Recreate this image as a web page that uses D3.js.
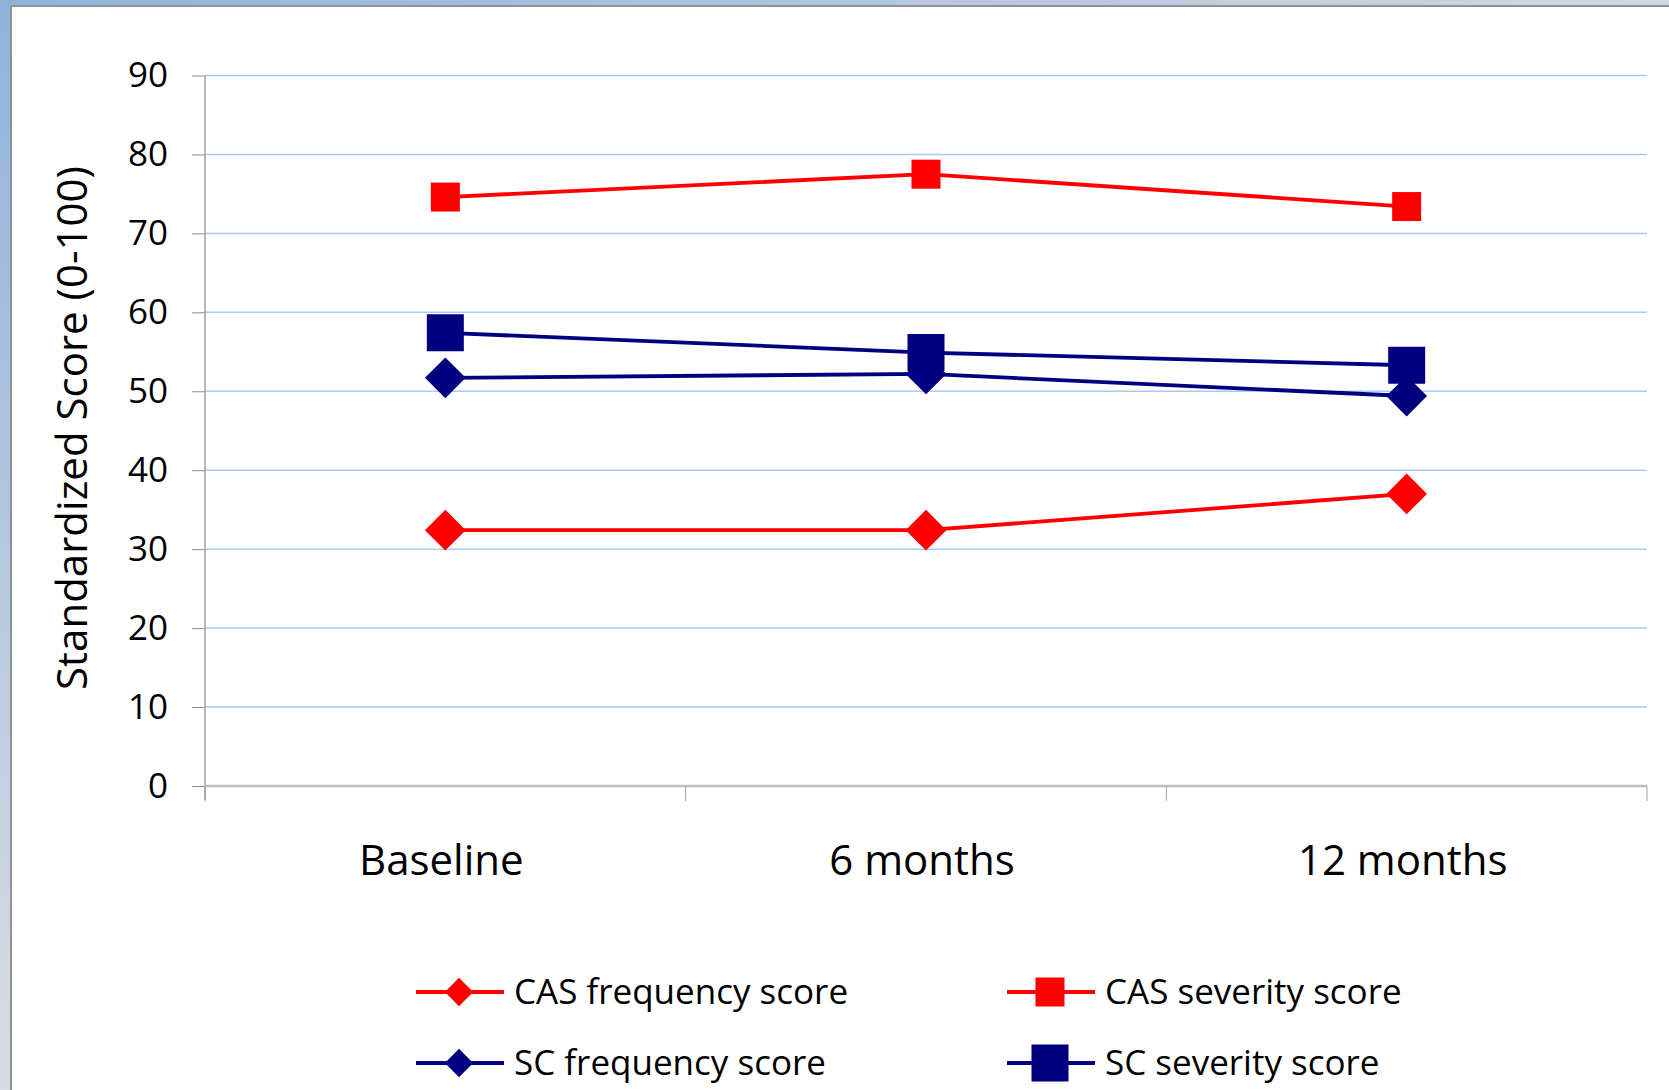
<!DOCTYPE html>
<html>
<head>
<meta charset="utf-8">
<script src="https://cdn.jsdelivr.net/npm/d3@7"></script>
<style>
  body { margin: 0; background: #fff; }
  svg text { font-family: "Open Sans", sans-serif; fill: #000; }
</style>
</head>
<body>
<div id="chart"></div>
<script>
// Data
const categories = ['Baseline', '6 months', '12 months'];
const casFrequency = [32.4, 32.4, 37.0];
const casSeverity = [74.6, 77.5, 73.4];
const scFrequency = [51.7, 52.2, 49.4];
const scSeverity = [57.4, 54.9, 53.3];
const yTicks = [0, 10, 20, 30, 40, 50, 60, 70, 80, 90];

const seriesNames = ['CAS frequency score', 'CAS severity score', 'SC frequency score', 'SC severity score'];
const seriesValues = [casFrequency, casSeverity, scFrequency, scSeverity];
const seriesColors = ['#ff0000', '#ff0000', '#000080', '#000080'];
const seriesShapes = ['diamond', 'square', 'diamond', 'square'];

const W = 1669, H = 1090;
const plot = { left: 205, right: 1647, top: 75.5, bottom: 786 };

const svg = d3.select('#chart').append('svg')
    .attr('width', W)
    .attr('height', H);

// window-like frame on the top/left
const defs = svg.append('defs');
const gLeft = defs.append('linearGradient').attr('id', 'gl')
    .attr('x1', 0).attr('y1', 0).attr('x2', 0).attr('y2', 1);
gLeft.append('stop').attr('offset', '0%').attr('stop-color', '#8fb3dc');
gLeft.append('stop').attr('offset', '100%').attr('stop-color', '#d9dde2');
const gTop = defs.append('linearGradient').attr('id', 'gt')
    .attr('x1', 0).attr('y1', 0).attr('x2', 1).attr('y2', 0);
gTop.append('stop').attr('offset', '0%').attr('stop-color', '#8fb3dc');
gTop.append('stop').attr('offset', '100%').attr('stop-color', '#d2d8e0');

svg.append('rect').attr('width', W).attr('height', H).attr('fill', '#fff');
svg.append('rect').attr('x', 0).attr('y', 0).attr('width', W).attr('height', 6).attr('fill', 'url(#gt)');
svg.append('rect').attr('x', 0).attr('y', 0).attr('width', 10).attr('height', H).attr('fill', 'url(#gl)');
svg.append('rect').attr('x', 10).attr('y', 5).attr('width', W - 10).attr('height', 2).attr('fill', '#8e9196');
svg.append('rect').attr('x', 10).attr('y', 5).attr('width', 2).attr('height', H - 5).attr('fill', '#8e9196');

// scales
const x = d3.scaleBand()
    .domain(categories)
    .range([plot.left, plot.right]);

const y = d3.scaleLinear()
    .domain([0, 90])
    .range([plot.bottom, plot.top]);

// gridlines
svg.append('g')
    .selectAll('line')
    .data(yTicks.filter(d => d > 0))
    .join('line')
    .attr('x1', plot.left)
    .attr('x2', plot.right)
    .attr('y1', d => y(d))
    .attr('y2', d => y(d))
    .attr('stroke', '#a9cbef')
    .attr('stroke-width', 1.5);

// y axis
const yAxis = svg.append('g')
    .attr('transform', `translate(${plot.left},0)`)
    .call(d3.axisLeft(y).tickValues(yTicks).tickSize(13).tickPadding(24));
yAxis.select('.domain').remove();
yAxis.selectAll('.tick line').attr('stroke', '#8c8c8c');
yAxis.selectAll('.tick text')
    .attr('font-size', 35)
    .attr('font-family', '"Open Sans", sans-serif')
    .attr('fill', '#000');
svg.append('line')
    .attr('x1', plot.left).attr('x2', plot.left)
    .attr('y1', plot.top).attr('y2', plot.bottom + 14)
    .attr('stroke', '#a0a0a0').attr('stroke-width', 1.5);

// x axis
const xAxis = svg.append('g')
    .attr('transform', `translate(0,${plot.bottom})`)
    .call(d3.axisBottom(x).tickSize(0).tickPadding(0));
xAxis.select('.domain').remove();
xAxis.selectAll('.tick text')
    .attr('font-size', 42)
    .attr('font-family', '"Open Sans", sans-serif')
    .attr('fill', '#000')
    .attr('dy', null)
    .attr('x', -4)
    .attr('y', 89);
svg.append('line')
    .attr('x1', plot.left).attr('x2', plot.right)
    .attr('y1', plot.bottom).attr('y2', plot.bottom)
    .attr('stroke', '#bfbfbf').attr('stroke-width', 2.5);
const boundaries = categories.map(c => x(c)).concat([x(categories[categories.length - 1]) + x.bandwidth()]);
svg.append('g')
    .selectAll('line')
    .data(boundaries)
    .join('line')
    .attr('x1', d => d).attr('x2', d => d)
    .attr('y1', plot.bottom).attr('y2', plot.bottom + 15)
    .attr('stroke', '#a0a0a0').attr('stroke-width', 1);

// y axis title
svg.append('text')
    .attr('transform', `translate(87,428) rotate(-90)`)
    .attr('text-anchor', 'middle')
    .attr('font-size', 42)
    .text('Standardized Score (0-100)');

// marker helper
function marker(shape, color, legend) {
    if (shape === 'diamond') {
        const s = legend ? 400 : 830;
        return g => g.append('path')
            .attr('d', d3.symbol(d3.symbolSquare, s)())
            .attr('transform', 'rotate(45)')
            .attr('fill', color);
    }
    const s = color === '#ff0000' ? 29 * 29 : 37 * 37;
    return g => g.append('path')
        .attr('d', d3.symbol(d3.symbolSquare, s)())
        .attr('fill', color);
}

// lines and markers
const line = d3.line()
    .x((d, i) => x(categories[i]) + x.bandwidth() / 2)
    .y(d => y(d));

seriesValues.forEach((vals, k) => {
    svg.append('path')
        .datum(vals)
        .attr('fill', 'none')
        .attr('stroke', seriesColors[k])
        .attr('stroke-width', 3.8)
        .attr('d', line);
});
seriesValues.forEach((vals, k) => {
    svg.append('g')
        .selectAll('g')
        .data(vals)
        .join('g')
        .attr('transform', (d, i) => `translate(${x(categories[i]) + x.bandwidth() / 2},${y(d)})`)
        .each(function () {
            marker(seriesShapes[k], seriesColors[k], false)(d3.select(this));
        });
});

// legend
const legendCols = [416, 1007];
const legendRows = [992, 1063];
seriesNames.forEach((name, k) => {
    const g = svg.append('g')
        .attr('transform', `translate(${legendCols[k % 2]},${legendRows[Math.floor(k / 2)]})`);
    g.append('line')
        .attr('x1', 0).attr('x2', 88)
        .attr('y1', 0).attr('y2', 0)
        .attr('stroke', seriesColors[k])
        .attr('stroke-width', 4);
    const m = g.append('g').attr('transform', 'translate(43,0)');
    marker(seriesShapes[k], seriesColors[k], true)(m);
    g.append('text')
        .attr('x', 98)
        .attr('y', 12)
        .attr('font-size', 35)
        .text(name);
});
</script>
</body>
</html>
